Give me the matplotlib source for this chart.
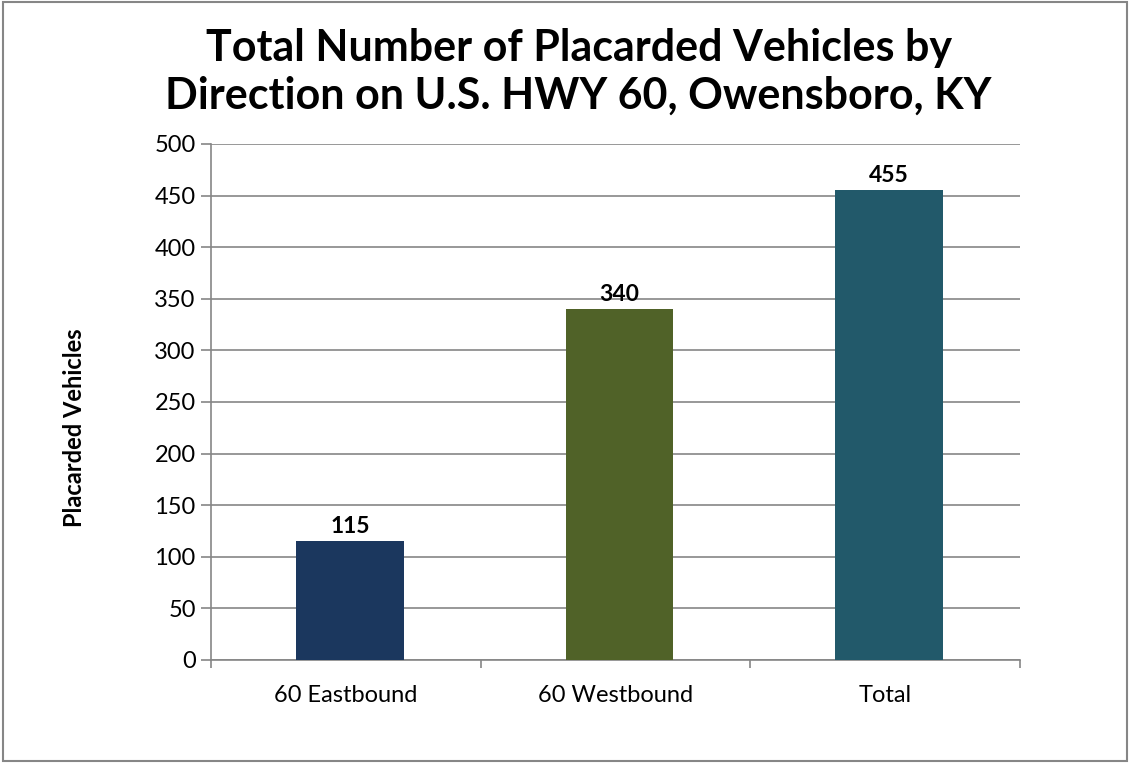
import matplotlib.pyplot as plt
from matplotlib.patches import Rectangle

categories = ['60 Eastbound', '60 Westbound', 'Total']
counts = [115, 340, 455]
bar_colors = ['#1B375E', '#506228', '#22596A']

plt.rcParams['font.family'] = ['Lato', 'DejaVu Sans']

fig = plt.figure(figsize=(11.3, 7.63), dpi=100, facecolor='white')
ax = fig.add_axes([211 / 1130, 1 - 660 / 763, 809 / 1130, 516 / 763])

x = list(range(len(categories)))
bars = ax.bar([i + 0.015 for i in x], counts, width=0.4, color=bar_colors, zorder=3)
for b, v in zip(bars, counts):
    ax.text(b.get_x() + b.get_width() / 2, v + 4, str(v), ha='center', va='bottom',
            fontsize=16.5, fontweight='bold', color='black')

ax.set_xlim(-0.5, 2.5)
ax.set_ylim(0, 500)
ax.set_yticks(range(0, 501, 50))
ax.set_xticks(x)
ax.set_xticklabels(categories, fontsize=17)
ax.tick_params(axis='x', length=0, pad=18)
ax.set_xticks([-0.5, 0.5, 1.5, 2.5], minor=True)
ax.tick_params(axis='x', which='minor', length=6, color='#868686', width=1.2)
ax.tick_params(axis='y', labelsize=17, length=7, color='#868686', width=1.2, pad=4)

ax.grid(axis='y', color='#868686', linewidth=1.2, zorder=0)
for s in ['top', 'right']:
    ax.spines[s].set_visible(False)
for s in ['left', 'bottom']:
    ax.spines[s].set_color('#868686')
    ax.spines[s].set_linewidth(1.2)

fig.text(75 / 1130, 1 - 428 / 763, 'Placarded Vehicles', rotation=90, ha='center', va='center',
         fontsize=17, fontweight='bold')
fig.text(0.512, 0.906, 'Total Number of Placarded Vehicles by\nDirection on U.S. HWY 60, Owensboro, KY',
         ha='center', va='center', fontsize=31, fontweight='bold', linespacing=1.22)

fig.patches.append(Rectangle((0.003, 0.003), 0.994, 0.994, transform=fig.transFigure,
                             fill=False, edgecolor='#868686', linewidth=1.5))

fig.savefig('out.png', dpi=100)
